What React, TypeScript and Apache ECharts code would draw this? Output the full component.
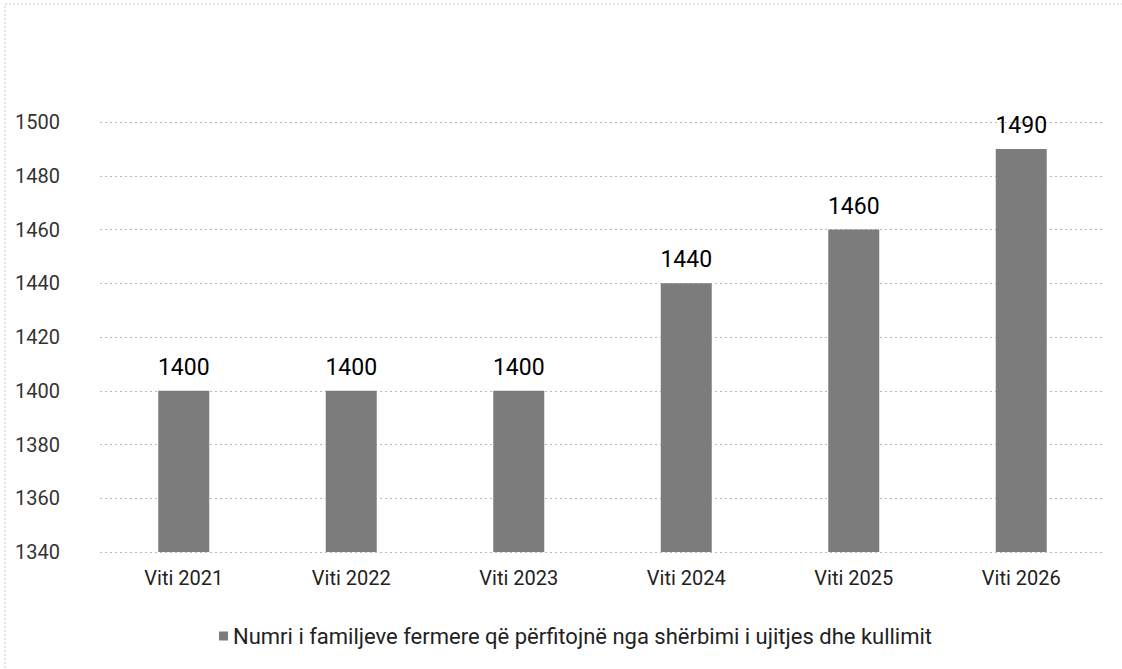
import React, { useEffect, useRef } from "react";
import * as echarts from "echarts";

const categories = ["Viti 2021", "Viti 2022", "Viti 2023", "Viti 2024", "Viti 2025", "Viti 2026"];
const values = [1400, 1400, 1400, 1440, 1460, 1490];
const seriesName = "Numri i familjeve fermere që përfitojnë nga shërbimi i ujitjes dhe kullimit";

export default function App() {
  const ref = useRef<HTMLDivElement>(null);
  useEffect(() => {
    const chart = echarts.init(ref.current!, null, { renderer: "svg" });
    chart.setOption({
      animation: false,
      backgroundColor: "#ffffff",
      textStyle: { fontFamily: "Roboto, 'Liberation Sans', sans-serif" },
      graphic: [
        {
          type: "rect",
          shape: { x: 5, y: 4, width: 1130, height: 680 },
          style: { fill: "none", stroke: "#c8c8c8", lineWidth: 1, lineDash: [2, 2] },
        },
      ],
      grid: { left: 100, right: 17, top: 122, bottom: 117, containLabel: false },
      legend: {
        data: [seriesName],
        left: 214,
        top: 620,
        itemWidth: 9,
        itemHeight: 9,
        itemGap: 5,
        icon: "rect",
        textStyle: { fontSize: 22, color: "#222" },
      },
      xAxis: {
        type: "category",
        data: categories,
        axisLine: { show: false },
        axisTick: { show: false },
        axisLabel: { fontSize: 20, color: "#222", margin: 16 },
      },
      yAxis: {
        type: "value",
        min: 1340,
        max: 1500,
        interval: 20,
        axisLine: { show: false },
        axisTick: { show: false },
        axisLabel: { fontSize: 20, color: "#333", margin: 40, formatter: (v: number) => String(v) },
        splitLine: { lineStyle: { color: "#b8b8b8", type: [2, 3], width: 1 } },
      },
      series: [
        {
          name: seriesName,
          type: "bar",
          data: values,
          barWidth: 51,
          itemStyle: { color: "#7c7c7c" },
          label: {
            show: true,
            position: "top",
            distance: 12,
            fontSize: 23,
            fontWeight: "normal",
            color: "#000",
          },
        },
      ],
    });
    return () => chart.dispose();
  }, []);
  return (
    <div
      ref={ref}
      style={{ position: "fixed", left: 0, top: 0, width: 1122, height: 669 }}
    />
  );
}
